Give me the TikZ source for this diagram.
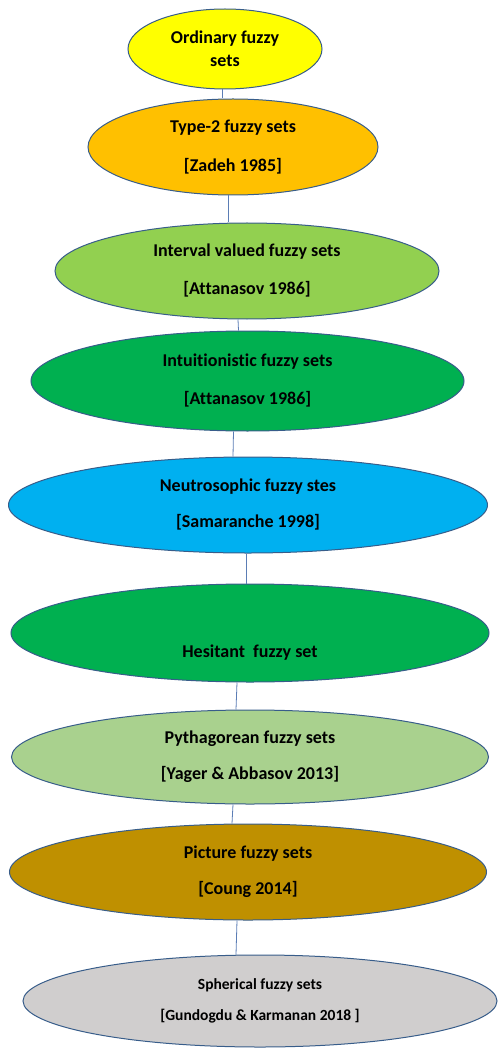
\documentclass[tikz,border=0pt]{standalone}
\usepackage{fontspec}
\setmainfont{Carlito}[Ligatures={NoCommon}]
\usetikzlibrary{shapes.geometric}
\definecolor{edgeblue}{HTML}{385D8A}
\definecolor{linkblue}{HTML}{5B7DB5}
\definecolor{cyel}{HTML}{FFFF00}
\definecolor{corange}{HTML}{FFC000}
\definecolor{clgreen}{HTML}{92D050}
\definecolor{cgreen}{HTML}{00B050}
\definecolor{ccyan}{HTML}{00B0F0}
\definecolor{cpale}{HTML}{A9D18E}
\definecolor{cgold}{HTML}{BF9000}
\definecolor{cgrey}{HTML}{D0CECE}
\tikzset{
  fz/.style={ellipse, draw=edgeblue, line width=1pt, inner sep=0pt, align=center,
    font=\fontsize{18}{23}\selectfont\bfseries, text=black},
  link/.style={draw=linkblue, line width=0.8pt}
}
\begin{document}
\begin{tikzpicture}[x=1pt,y=-1pt]
\useasboundingbox (0,0) rectangle (498,1048);
\node[fz, fill=cyel, minimum width=194, minimum height=80] (o) at (225,49)
  {Ordinary fuzzy\\sets};
\node[fz, fill=corange, minimum width=290, minimum height=96] (t2) at (233,147)
  {Type-2 fuzzy sets\\[16pt][Zadeh 1985]};
\node[fz, fill=clgreen, minimum width=384, minimum height=96] (iv) at (247,271)
  {Interval valued fuzzy sets\\[15pt][Attanasov 1986]};
\node[fz, fill=cgreen, minimum width=433, minimum height=100] (in) at (247.5,381)
  {Intuitionistic fuzzy sets\\[15pt][Attanasov 1986]};
\node[fz, fill=ccyan, minimum width=479, minimum height=96] (ne) at (248,505)
  {Neutrosophic fuzzy stes\\[13pt][Samaranche 1998]};
\node[fz, fill=cgreen, minimum width=478, minimum height=98] (he) at (250,633)
  {\strut\\[13pt]Hesitant\ \ fuzzy set};
\node[fz, fill=cpale, minimum width=477, minimum height=94] (py) at (250,757)
  {Pythagorean fuzzy sets\\[13pt][Yager \& Abbasov 2013]};
\node[fz, fill=cgold, minimum width=477, minimum height=96] (pi) at (248,872)
  {Picture fuzzy sets\\[13pt][Coung 2014]};
\node[fz, fill=cgrey, minimum width=474, minimum height=92,
  font=\fontsize{15.5}{19}\selectfont\bfseries] (sp) at (260,1001)
  {Spherical fuzzy sets\\[12pt][Gundogdu \& Karmanan 2018 ]};
\draw[link] ([xshift=-3]o.south) -- ([xshift=-11]t2.north);
\draw[link] ([xshift=-5]t2.south) -- ([xshift=-19]iv.north);
\draw[link] ([xshift=-9]iv.south) -- ([xshift=-9]in.north);
\draw[link] ([xshift=-14]in.south) -- ([xshift=-15]ne.north);
\draw[link] ([xshift=-2]ne.south) -- ([xshift=-4]he.north);
\draw[link] ([xshift=-13]he.south) -- ([xshift=-14]py.north);
\draw[link] ([xshift=-17]py.south) -- ([xshift=-16]pi.north);
\draw[link] ([xshift=-11]pi.south) -- ([xshift=-24]sp.north);
\end{tikzpicture}
\end{document}
